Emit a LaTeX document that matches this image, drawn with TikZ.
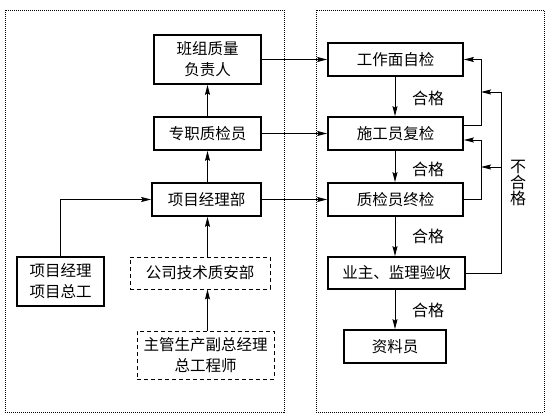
\documentclass[tikz,border=0pt]{standalone}
\usepackage{fontspec}
\newfontfamily\cjk{Noto Sans CJK SC}
\usepackage{tikz}
\usetikzlibrary{arrows.meta,positioning}
\tikzstyle{arrow} = [line width=0.9pt,-{Stealth[length=10pt,width=5pt,inset=1.5pt]}]
\tikzstyle{line} = [line width=0.9pt]
\tikzstyle{box} = [draw,line width=1.7pt,inner sep=0pt,align=center,font=\cjk\fontsize{15.5}{21}\selectfont]
\tikzstyle{dbox} = [draw,line width=0.8pt,dash pattern=on 4pt off 3pt,inner sep=0pt,align=center,font=\cjk\fontsize{15.5}{21}\selectfont]
\tikzstyle{frame} = [line width=0.7pt,dash pattern=on 1pt off 1pt]
\tikzstyle{lab} = [font=\cjk\fontsize{16}{16}\selectfont,align=center,inner sep=0pt]

\begin{document}
\begin{tikzpicture}[x=1pt,y=-1pt]
\useasboundingbox (0,0) rectangle (554,420);
% frames
\draw[frame] (5,10) rectangle (284,412);
\draw[frame] (316,10) rectangle (544,412);
% left side
\node[box,minimum width=107pt,minimum height=49pt] (banzu) at (207.5,59.5) {班组质量\\负责人};
\node[box,minimum width=107pt,minimum height=33pt] (zhuanzhi) at (207.5,133.5) {专职质检员};
\node[box,minimum width=109pt,minimum height=33pt] (xmjlb) at (206.5,199.5) {项目经理部};
\node[box,minimum width=87pt,minimum height=49pt] (xmjl) at (60.5,281.5) {项目经理\\项目总工};
\node[dbox,minimum width=140pt,minimum height=32pt] (gongsi) at (200,273) {公司技术质安部};
\node[dbox,minimum width=137pt,minimum height=48pt] (zhuguan) at (205.5,355) {主管生产副总经理\\总工程师};
% right side
\node[box,minimum width=135pt,minimum height=33pt] (zimian) at (395.5,59.5) {工作面自检};
\node[box,minimum width=135pt,minimum height=33pt] (fujian) at (395.5,133.5) {施工员复检};
\node[box,minimum width=135pt,minimum height=33pt] (zhongjian) at (395.5,199.5) {质检员终检};
\node[box,minimum width=137pt,minimum height=32pt] (yanshou) at (396.5,273) {业主、监理验收};
\node[box,minimum width=102pt,minimum height=33pt] (ziliao) at (395,346.5) {资料员};
% labels
\node[lab] (hg1) at (428,98) {合格};
\node[lab] (hg2) at (428,169) {合格};
\node[lab] (hg3) at (428,236) {合格};
\node[lab] (hg4) at (428,310) {合格};
\node[lab] (bhg) at (518,183) {不\\合\\格};
% left arrows
\draw[arrow] (zhuanzhi) -- (banzu);
\draw[arrow] (xmjlb.north -| zhuanzhi) -- (zhuanzhi);
\draw[arrow] (gongsi.north -| zhuanzhi) -- (xmjlb.south -| zhuanzhi);
\draw[arrow] (zhuguan.north -| zhuanzhi) -- (gongsi.south -| zhuanzhi);
\draw[arrow] (xmjl.north) |- (xmjlb.west);
% across
\draw[arrow] (banzu.east) -- (zimian.west);
\draw[arrow] (zhuanzhi.east) -- (fujian.west);
\draw[arrow] (xmjlb.east) -- (zhongjian.west);
% down
\draw[arrow] (zimian.south -| ziliao) -- (fujian.north -| ziliao);
\draw[arrow] (fujian.south -| ziliao) -- (zhongjian.north -| ziliao);
\draw[arrow] (zhongjian.south -| ziliao) -- (yanshou.north -| ziliao);
\draw[arrow] (yanshou.south -| ziliao) -- (ziliao.north);
% feedback
\coordinate (fb1) at (481,0);
\coordinate (fb2) at (501,0);
\coordinate (fjOut) at ([yshift=8.5pt]fujian.east);
\coordinate (fjIn) at ([yshift=-6.5pt]fujian.east);
\coordinate (j1) at (481,92);
\coordinate (j2) at (481,167);
\draw[arrow] (fjOut) -| (fb1 |- zimian.east) -- (zimian.east);
\draw[arrow] (zhongjian.east) -| (fb1 |- fjIn) -- (fjIn);
\draw[line] (yanshou.east) -| (fb2 |- j1);
\draw[arrow] (fb2 |- j1) -- (j1);
\draw[arrow] (fb2 |- j2) -- (j2);
\end{tikzpicture}
\end{document}
